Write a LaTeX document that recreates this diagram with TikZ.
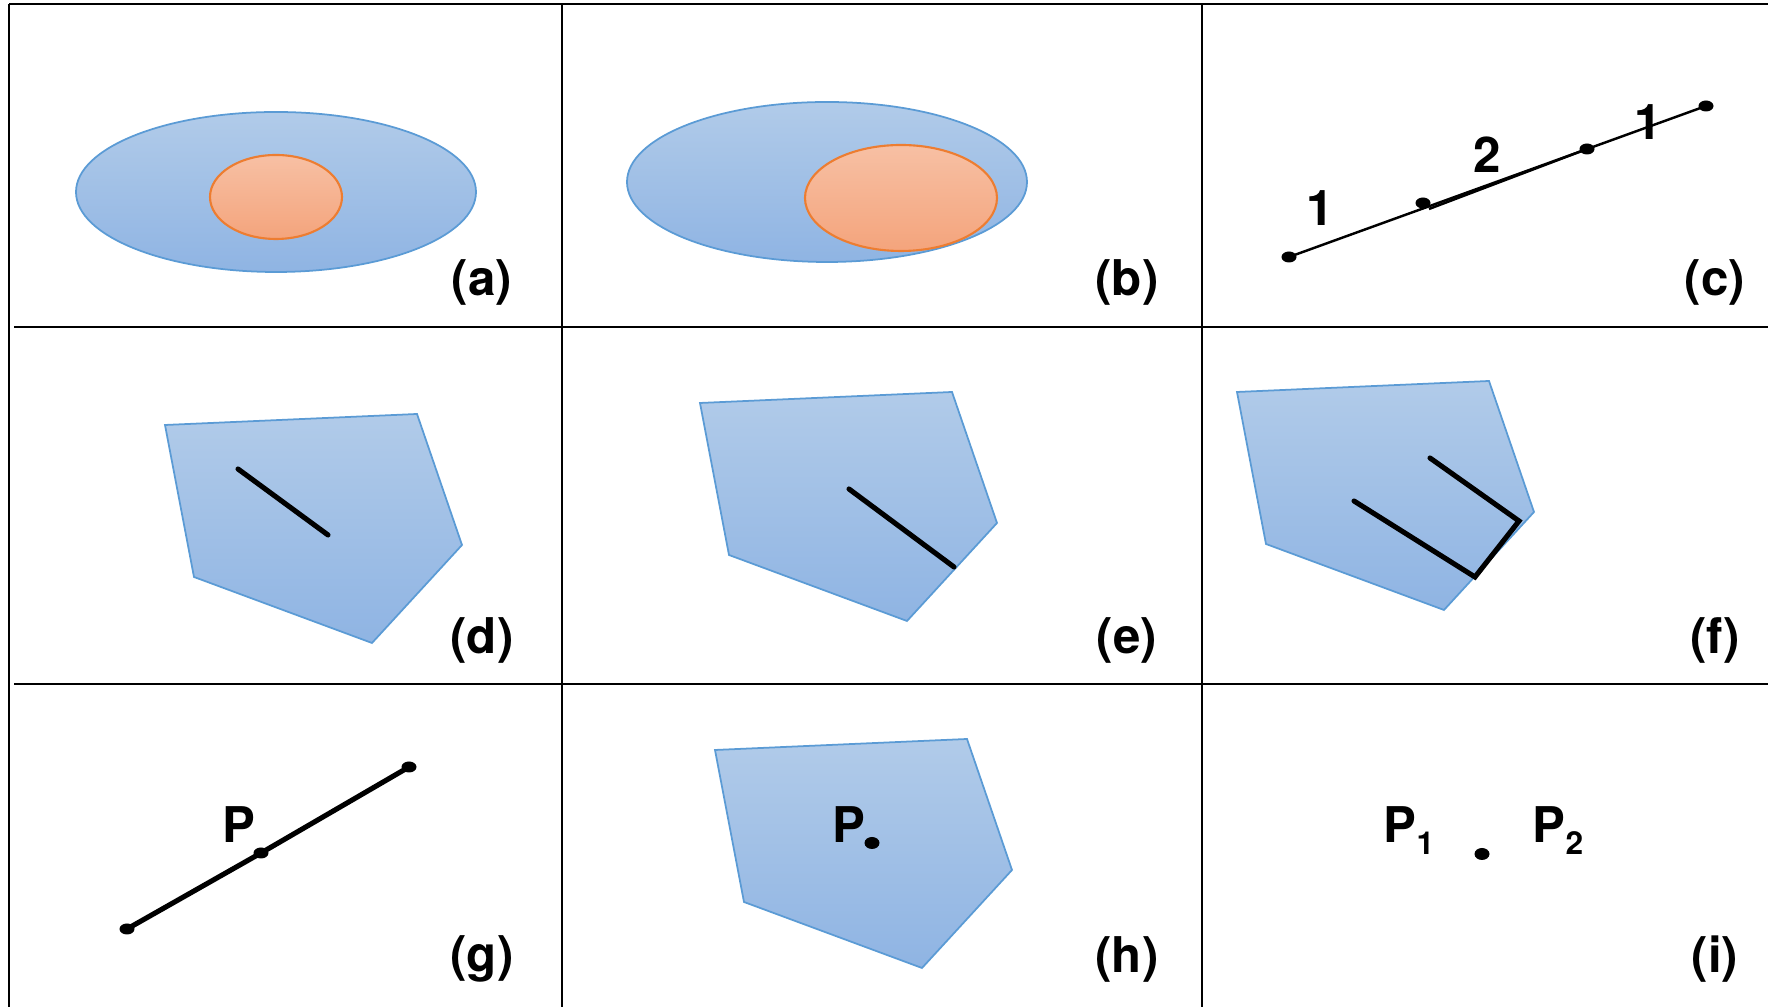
\documentclass[tikz,border=0pt]{standalone}
\usepackage{fontspec}
\setmainfont{TeX Gyre Heros}

\definecolor{blueline}{HTML}{5B9BD5}
\definecolor{bluetop}{HTML}{B1CBE9}
\definecolor{bluebot}{HTML}{8FB4E3}
\definecolor{orangeline}{HTML}{ED7D31}
\definecolor{orangetop}{HTML}{F7C0A4}
\definecolor{orangebot}{HTML}{F4A47C}

\tikzset{
  gridline/.style={line width=0.75pt},
  blueshape/.style={draw=blueline, line width=0.5pt, top color=bluetop, bottom color=bluebot},
  orangeshape/.style={draw=orangeline, line width=0.6pt, top color=orangetop, bottom color=orangebot},
  thinline/.style={line width=0.7pt},
  thickline/.style={line width=1.45pt, line cap=round},
  tag/.style={font=\bfseries\fontsize{14}{16}\selectfont, inner sep=0pt}
}

\begin{document}
\begin{tikzpicture}[x=0.01cm, y=-0.01cm]

\useasboundingbox (0,0) rectangle (1768,1007);

% grid
\draw[gridline] (9,4) -- (1768,4);
\draw[gridline] (9,4) -- (9,1007);
\draw[gridline] (562,4) -- (562,1007);
\draw[gridline] (1202,4) -- (1202,1007);
\draw[gridline] (14,327) -- (1768,327);
\draw[gridline] (14,684) -- (1768,684);

% (a) ellipse inside ellipse
\path[blueshape] (276,192) ellipse[x radius=200, y radius=80];
\path[orangeshape] (276,197) ellipse[x radius=66, y radius=42];
\node[tag] (taga) at (482,282) {(a)};

% (b) touching ellipse
\path[blueshape] (827,182) ellipse[x radius=200, y radius=80];
\path[orangeshape] (901,198) ellipse[x radius=96, y radius=53];
\node[tag] (tagb) at (1127,282) {(b)};

% (c) segments on a line
\coordinate (c1) at (1289,257);
\coordinate (c2) at (1423,203);
\coordinate (c3) at (1587,149);
\coordinate (c4) at (1706,106);
\coordinate (c2low) at (1429,209);
\draw[thinline] (c1) -- (c4);
\draw[thinline] (c2low) -- (c3);
\foreach \p in {c1,c2,c3,c4}
  \fill (\p) ellipse[x radius=7.5, y radius=5.5];
\node[tag] (one) at (1320,208) {1};
\node[tag] (two) at (1487,155) {2};
\node[tag] (onebis) at (1648,122) {1};
\node[tag] (tagc) at (1715,282) {(c)};

% pentagons of (d), (e), (f), (h)
\foreach \dx/\dy in {0/0, 535/-22, 1072/-33, 550/325}
  \path[blueshape, shift={(\dx,\dy)}]
    (165,425) -- (417,414) -- (462,545) -- (372,643) -- (194,577) -- cycle;

% (d) segment inside
\coordinate (d1) at (238,469);
\coordinate (d2) at (328,535);
\draw[thickline] (d1) -- (d2);
\node[tag] (tagd) at (482,640) {(d)};

% (e) segment touching the border
\coordinate (e1) at (849,489);
\coordinate (e2) at (954,567);
\draw[thickline] (e1) -- (e2);
\node[tag] (tage) at (1127,640) {(e)};

% (f) polyline
\coordinate (f1) at (1354,501);
\coordinate (f2) at (1475,577);
\coordinate (f3) at (1519,521);
\coordinate (f4) at (1430,458);
\draw[thickline] (f1) -- (f2) -- (f3) -- (f4);
\node[tag] (tagf) at (1715,640) {(f)};

% (g) point on a segment
\coordinate (g1) at (127,929);
\coordinate (g2) at (261,853);
\coordinate (g3) at (409,767);
\draw[thickline] (g1) -- (g2) -- (g3);
\foreach \p in {g1,g2,g3}
  \fill (\p) ellipse[x radius=7.5, y radius=5.5];
\node[tag, anchor=base west] (pg) at (222,843) {P};
\node[tag] (tagg) at (482,959) {(g)};

% (h) point in a polygon
\coordinate (h1) at (872,843);
\fill (h1) ellipse[x radius=7.5, y radius=6];
\node[tag, anchor=base west] (ph) at (832,843) {P};
\node[tag] (tagh) at (1127,959) {(h)};

% (i) two points
\coordinate (i1) at (1482,854);
\fill (i1) ellipse[x radius=7.5, y radius=6];
\node[tag, anchor=base west] (pone) at (1383,843) {P\raisebox{-3.4pt}{\fontsize{9}{10}\selectfont 1}};
\node[tag, anchor=base west] (ptwo) at (1532,843) {P\raisebox{-3.4pt}{\fontsize{9}{10}\selectfont 2}};
\node[tag] (tagi) at (1715,959) {(i)};

\end{tikzpicture}
\end{document}
